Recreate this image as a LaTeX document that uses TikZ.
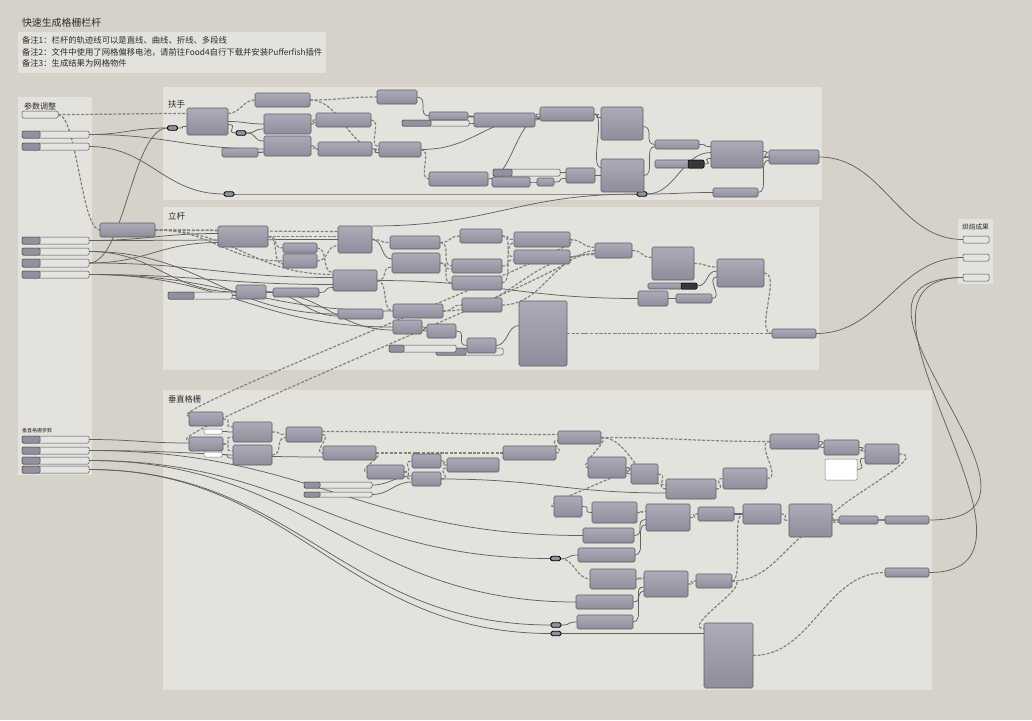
\documentclass[tikz,border=0pt]{standalone}
\usepackage{fontspec}
\newfontfamily\cjk{Noto Sans CJK SC}
\usetikzlibrary{calc}
\definecolor{bgc}{RGB}{214,210,202}
\definecolor{grp}{RGB}{227,226,221}
\definecolor{ctop}{RGB}{172,171,184}
\definecolor{cbot}{RGB}{142,141,155}
\definecolor{cbrd}{RGB}{92,92,102}
\definecolor{slt}{RGB}{228,228,226}
\definecolor{sdk}{RGB}{146,145,160}
\definecolor{wirec}{RGB}{100,98,94}
\definecolor{dwirec}{RGB}{132,130,125}
\definecolor{txt}{RGB}{45,45,45}
\pgfdeclarelayer{back}\pgfdeclarelayer{wires}\pgfsetlayers{back,wires,main}
\tikzset{
 comp/.style={draw=cbrd,line width=0.6pt,rounded corners=1.5pt,top color=ctop,bottom color=cbot,inner sep=0,outer sep=0},
 sld/.style={draw=gray!65!black,line width=0.5pt,rounded corners=1.2pt,fill=slt,inner sep=0,outer sep=0},
 wpanel/.style={draw=gray,line width=0.5pt,rounded corners=1pt,fill=white,inner sep=0,outer sep=0},
 relay/.style={draw=black,line width=0.9pt,rounded corners=1.5pt,fill=sdk,inner sep=0,outer sep=0,minimum width=10pt,minimum height=4.5pt},
 lbl/.style={inner sep=0,outer sep=0,text=txt},
 gh/.style={to path={let \p1=(\tikztostart),\p2=(\tikztotarget),\n1={max(abs(\x2-\x1)*0.45,12)} in .. controls ($(\p1)+(\n1,0)$) and ($(\p2)-(\n1,0)$) .. (\p2)}},
 gl/.style={to path={let \p1=(\tikztostart),\p2=(\tikztotarget) in .. controls ($(\p1)+(#1,0)$) and ($(\p2)-(#1,0)$) .. (\p2)}},
 w/.style={draw=wirec,line width=0.75pt,gh},
 dw/.style={draw=dwirec,line width=1.2pt,dash pattern=on 3pt off 1.6pt,gh},
}
\newcommand{\cmp}[5]{\pgfmathsetmacro\cw{#4-#2}\pgfmathsetmacro\chh{#5-#3}\node[comp,minimum width=\cw pt,minimum height=\chh pt] (#1) at ({(#2+#4)/2},{(#3+#5)/2}) {};}
\newcommand{\pnl}[5]{\pgfmathsetmacro\cw{#4-#2}\pgfmathsetmacro\chh{#5-#3}\node[sld,minimum width=\cw pt,minimum height=\chh pt] (#1) at ({(#2+#4)/2},{(#3+#5)/2}) {};}
\newcommand{\wpn}[5]{\pgfmathsetmacro\cw{#4-#2}\pgfmathsetmacro\chh{#5-#3}\node[wpanel,minimum width=\cw pt,minimum height=\chh pt] (#1) at ({(#2+#4)/2},{(#3+#5)/2}) {};}
\newcommand{\sldr}[6]{\pnl{#1}{#2}{#3}{#4}{#5}\fill[sdk,draw=gray!60!black,line width=0.5pt,rounded corners=1.2pt] (#2,#3) rectangle (#6,#5);}
\newcommand{\blk}[6]{\cmp{#1}{#2}{#3}{#4}{#5}\fill[black!78,draw=black,line width=0.5pt,rounded corners=1pt] (#6,#3) rectangle (#4,#5);}
\begin{document}
\begin{tikzpicture}[x=1pt,y=-1pt]
\useasboundingbox (0,0) rectangle (1032,720);
\begin{pgfonlayer}{back}
\fill[bgc] (0,0) rectangle (1032,720);
\fill[grp] (18,32) rectangle (326,73);
\fill[grp] (18,97) rectangle (92,475);
\fill[grp] (163,87) rectangle (822,200);
\fill[grp] (163,207) rectangle (819,370);
\fill[grp] (163,390) rectangle (932,690);
\fill[grp] (958,219) rectangle (993,284);
\end{pgfonlayer}
% texts
\node[lbl,anchor=west,font={\cjk\fontsize{9.9}{11}\selectfont}] (title) at (22,23) {快速生成格栅栏杆};
\node[lbl,anchor=west,font={\cjk\fontsize{8.35}{10}\selectfont}] (n1) at (22,40.5) {备注1：栏杆的轨迹线可以是直线、曲线、折线、多段线};
\node[lbl,anchor=west,font={\cjk\fontsize{8.35}{10}\selectfont}] (n2) at (22,52) {备注2：文件中使用了网格偏移电池，请前往Food4自行下载并安装Pufferfish插件};
\node[lbl,anchor=west,font={\cjk\fontsize{8.35}{10}\selectfont}] (n3) at (22,63.5) {备注3：生成结果为网格物件};
\node[lbl,anchor=west,font={\cjk\fontsize{8}{9}\selectfont}] (gpar) at (24,106) {参数调整};
\node[lbl,anchor=west,font={\cjk\fontsize{8.5}{9}\selectfont}] (gfs) at (168,104) {扶手};
\node[lbl,anchor=west,font={\cjk\fontsize{8.5}{9}\selectfont}] (glg) at (168,216) {立杆};
\node[lbl,anchor=west,font={\cjk\fontsize{8.3}{9}\selectfont}] (gcz) at (168,399) {垂直格栅};
\node[lbl,font={\cjk\fontsize{6.7}{8}\selectfont}] (gout) at (975.5,227) {烘焙成果};
\node[lbl,anchor=west,font={\cjk\fontsize{5}{6}\selectfont}] (gczp) at (22,431) {垂直格栅参数};
% left params
\pnl{p0}{22}{111}{58}{118}
\sldr{s1}{22}{131}{89}{138}{40}
\sldr{s2}{22}{143}{89}{150}{40}
\sldr{s3}{22}{237}{89}{244}{40}
\sldr{s4}{22}{248}{89}{255}{40}
\sldr{s5}{22}{259}{89}{267}{40}
\sldr{s6}{22}{271}{89}{278}{40}
\sldr{t1}{22}{436}{89}{443}{40}
\sldr{t2}{22}{447}{89}{454}{40}
\sldr{t3}{22}{457}{89}{464}{40}
\sldr{t4}{22}{466}{89}{473}{40}
% outputs
\pnl{o1}{963}{236}{989}{243}
\pnl{o2}{963}{254}{989}{261}
\pnl{o3}{963}{274}{989}{281}
% handrail
\node[relay] (r1) at (172.5,128) {};
\node[relay] (r3) at (241,133) {};
\node[relay] (r2) at (229,194) {};
\node[relay] (r4) at (642,194) {};
\cmp{a1}{187}{108}{228}{135}
\cmp{b1}{255}{93}{310}{107}
\cmp{h3}{264}{114}{311}{134}
\cmp{h4}{264}{136}{311}{156}
\cmp{h5}{222}{148}{258}{157}
\cmp{h6}{316}{113}{371}{127}
\cmp{h8}{318}{142}{372}{156}
\cmp{h7}{377}{90}{417}{104}
\cmp{h10}{379}{142}{421}{157}
\sldr{sl1}{402}{120}{469}{126}{431}
\cmp{h11}{429}{112}{468}{120}
\cmp{h13}{474}{113}{535}{127}
\cmp{h14}{540}{107}{594}{121}
\cmp{h19}{601}{107}{643}{140}
\cmp{h15}{429}{172}{488}{186}
\sldr{sl2}{493}{169}{560}{176}{512}
\cmp{h16}{492}{177}{530}{187}
\cmp{h17}{537}{178}{554}{186}
\cmp{h18}{566}{168}{595}{183}
\cmp{h20}{601}{159}{644}{192}
\cmp{h21}{655}{140}{699}{149}
\blk{hs}{655}{160}{704}{168}{688}
\cmp{h23}{711}{141}{763}{168}
\cmp{h24}{769}{150}{819}{164}
\cmp{h25}{713}{188}{758}{197}
% posts
\cmp{l0}{100}{223}{155}{237}
\cmp{l1}{218}{226}{268}{247}
\cmp{l2}{283}{243}{317}{253}
\cmp{l3}{283}{254}{317}{268}
\cmp{l4}{338}{226}{372}{253}
\cmp{l5}{333}{270}{377}{291}
\sldr{ls1}{168}{292}{232}{299}{194}
\cmp{l6}{236}{285}{266}{299}
\cmp{l7}{273}{288}{319}{297}
\cmp{l8}{338}{309}{383}{319}
\cmp{l9}{390}{236}{440}{249}
\cmp{l10}{392}{253}{440}{273}
\cmp{l11}{460}{229}{502}{243}
\cmp{l12}{452}{259}{502}{273}
\cmp{l13}{452}{276}{502}{290}
\cmp{l14}{514}{232}{570}{247}
\cmp{l15}{514}{250}{570}{264}
\cmp{l16}{595}{243}{632}{258}
\cmp{l17}{652}{247}{694}{280}
\blk{lhs}{648}{283}{697}{289}{681}
\cmp{l18}{717}{259}{764}{287}
\cmp{l19}{638}{291}{668}{306}
\cmp{l20}{676}{294}{712}{303}
\cmp{l21}{462}{298}{502}{312}
\cmp{l22}{393}{304}{443}{318}
\cmp{l23}{393}{320}{422}{334}
\cmp{l24}{427}{324}{456}{338}
\sldr{ls3}{436}{348}{503}{355}{466}
\sldr{ls2}{389}{345}{456}{352}{404}
\cmp{l26}{467}{338}{496}{353}
\cmp{l27}{519}{301}{567}{366}
\cmp{l28}{772}{329}{816}{338}
% vertical grille
\cmp{v1}{189}{412}{223}{426}
\cmp{v2}{189}{437}{223}{451}
\wpn{vw1}{204}{429}{222}{434}
\wpn{vw2}{204}{452}{222}{457}
\cmp{v3}{233}{422}{272}{442}
\cmp{v4}{233}{445}{272}{465}
\cmp{v5}{286}{427}{322}{442}
\cmp{v6}{323}{446}{376}{460}
\cmp{v7}{367}{465}{404}{479}
\cmp{v8}{412}{454}{441}{468}
\cmp{v9}{412}{472}{441}{486}
\cmp{v10}{447}{458}{499}{472}
\cmp{v11}{503}{446}{556}{460}
\sldr{vs1}{304}{482}{372}{488}{320}
\sldr{vs2}{304}{492}{372}{497}{320}
\cmp{v12}{558}{431}{601}{444}
\cmp{v13}{588}{457}{626}{478}
\cmp{v14}{631}{464}{658}{484}
\cmp{v15}{666}{479}{716}{499}
\cmp{v16}{723}{468}{767}{489}
\cmp{v17}{770}{434}{819}{449}
\cmp{v18}{824}{440}{859}{455}
\wpn{vw3}{825}{459}{857}{480}
\cmp{v19}{865}{444}{899}{464}
\cmp{v20}{554}{496}{582}{517}
\cmp{v21}{592}{502}{637}{523}
\cmp{v22}{646}{504}{690}{531}
\cmp{v23}{698}{507}{734}{521}
\cmp{v24}{743}{504}{781}{524}
\cmp{v25}{789}{504}{832}{537}
\cmp{v26}{839}{516}{878}{524}
\cmp{v27}{885}{516}{929}{524}
\cmp{v28}{583}{528}{634}{543}
\cmp{v29}{578}{548}{635}{562}
\node[relay] (vr1) at (555.5,558.5) {};
\cmp{v30}{590}{569}{636}{589}
\cmp{v31}{644}{571}{688}{597}
\cmp{v32}{696}{574}{732}{588}
\cmp{v33}{885}{568}{929}{577}
\cmp{v34}{576}{595}{633}{609}
\cmp{v35}{577}{615}{633}{629}
\node[relay] (vr2) at (556,625) {};
\node[relay] (vr3) at (556,633.5) {};
\cmp{v36}{704}{623}{753}{688}
% ---------- wires ----------
\begin{pgfonlayer}{wires}
% handrail
\draw[dw] (p0.east) to ($(a1.west)+(0,-8)$);
\draw[dw] (p0.east) to (l0.west);
\draw[w] (s1.east) to (r1.west);
\draw[w] (s1.east) to ($(h4.west)+(0,3)$);
\draw[w] (s2.east) to (r2.west);
\draw[w] (s5.east) to (r1.west);
\draw[w] (r1.east) to ($(a1.west)+(0,5)$);
\draw[w] ($(a1.east)+(0,3)$) to (r3.west);
\draw[w] (a1.east) to (h3.west);
\draw[dw] ($(a1.east)+(0,-8)$) to (b1.west);
\draw[w] (r3.east) to ($(h3.west)+(0,5)$);
\draw[w] (r3.east) to ($(h4.west)+(0,-5)$);
\draw[w] (h5.east) to ($(h4.west)+(0,6)$);
\draw[dw] (b1.east) to (h7.west);
\draw[dw] (b1.east) to (h10.west);
\draw[dw] (h3.east) to (h6.west);
\draw[dw] (h4.east) to (h8.west);
\draw[dw] (h6.east) to ($(h10.west)+(0,-3)$);
\draw[dw] (h10.east) to (h15.west);
\draw[w] (h8.east) to ($(h10.west)+(0,3)$);
\draw[w] (h7.east) to (h11.west);
\draw[w] (h11.east) to ($(h13.west)+(0,-3)$);
\draw[w] (sl1.east) to ($(h13.west)+(0,3)$);
\draw[w] (h13.east) to (h14.west);
\draw[w] (h10.east) to ($(h14.west)+(0,3)$);
\draw[w] (h15.east) to ($(h14.west)+(0,4)$);
\draw[w] (sl2.east) to ($(h18.west)+(0,-3)$);
\draw[w] (h16.east) to (h17.west);
\draw[w] (h17.east) to ($(h18.west)+(0,3)$);
\draw[w] (h14.east) to ($(h19.west)+(0,-6)$);
\draw[w] (h14.east) to ($(h20.west)+(0,-8)$);
\draw[w] (h18.east) to (h20.west);
\draw[w] ($(h19.east)+(0,3)$) to (h21.west);
\draw[w] (h20.east) to ($(h21.west)+(0,2)$);
\draw[w] (h21.east) to ($(h23.west)+(0,-8)$);
\draw[w] (hs.east) to ($(h23.west)+(0,4)$);
\draw[w] (r4.east) to ($(h23.west)+(0,-2)$);
\draw[w] ($(h23.east)+(0,-3)$) to (h24.west);
\draw[w] ($(h23.east)+(0,3)$) to (h24.west);
\draw[w] (r4.east) to (h25.west);
\draw[w] (h25.east) to ($(h24.west)+(0,3)$);
\draw[w] (r2.east) to (r4.west);
\draw[w] (l4.north east) to (r4.west);
\draw[w] (h24.east) to (o1.west);
% posts
\draw[w] (s3.east) to ($(l1.west)+(0,-3)$);
\draw[w] (s3.east) to (l4.west);
\draw[w] (s4.east) to (l6.west);
\draw[w] (s4.east) to (l8.west);
\draw[w] (s5.east) to ($(l1.west)+(0,6)$);
\draw[w] (s5.east) to ($(l5.west)+(0,-3)$);
\draw[w] (s6.east) to ($(l5.west)+(0,4)$);
\draw[w] (s6.east) to (l22.west);
\draw[w] (s6.east) to (l23.west);
\draw[w] (ls1.east) to ($(l6.west)+(0,3)$);
\draw[w] (l6.east) to (l7.west);
\draw[w] (l7.east) to ($(l5.west)+(0,7)$);
\draw[w] (l6.east) to ($(l8.west)+(0,2)$);
\draw[w] (l6.east) to ($(l23.west)+(0,3)$);
\draw[dw,line width=1.5pt] (l0.east) to ($(l1.west)+(0,-6)$);
\draw[dw] (l0.east) to ($(l4.west)+(0,-8)$);
\draw[dw] (l0.east) to (l3.west);
\draw[dw] (l0.east) to ($(l5.west)+(0,-6)$);
\draw[dw] (l1.east) to (l2.west);
\draw[dw] (l1.east) to ($(l3.west)+(0,3)$);
\draw[dw] (l1.east) to ($(l4.west)+(0,-3)$);
\draw[dw] (l3.east) to ($(l4.west)+(0,6)$);
\draw[dw] (l2.east) to ($(l5.west)+(0,-8)$);
\draw[dw] (l4.east) to (l9.west);
\draw[w] (l4.east) to ($(l10.west)+(0,-4)$);
\draw[dw] (l5.east) to ($(l10.west)+(0,4)$);
\draw[w] (l5.east) to (l19.west);
\draw[dw] (l5.east) to (l22.west);
\draw[dw] (l9.east) to (l11.west);
\draw[dw] (l9.east) to (l12.west);
\draw[dw] (l10.east) to ($(l12.west)+(0,3)$);
\draw[dw] (l10.east) to (l13.west);
\draw[dw] (l11.east) to (l14.west);
\draw[dw] (l11.east) to (l15.west);
\draw[dw] (l12.east) to ($(l15.west)+(0,3)$);
\draw[dw] (l13.east) to ($(l14.west)+(0,3)$);
\draw[dw] (l14.east) to ($(l16.west)+(0,-3)$);
\draw[dw] (l15.east) to (l16.west);
\draw[dw] (l21.east) to ($(l16.west)+(0,3)$);
\draw[dw] (l22.east) to ($(l16.west)+(0,4)$);
\draw[dw] (l22.east) to (l21.west);
\draw[w] (l23.east) to (l24.west);
\draw[w] (l24.east) to (l26.west);
\draw[w] (l26.east) to ($(l27.west)+(0,-8)$);
\draw[dw] (l16.east) to ($(l17.west)+(0,-6)$);
\draw[dw] (l17.east) to ($(l18.west)+(0,-6)$);
\draw[w] (lhs.east) to ($(l18.west)+(0,-2)$);
\draw[w] (l19.east) to (l20.west);
\draw[w] (l20.east) to ($(l18.west)+(0,4)$);
\draw[dw,gl=18] (l18.east) to (l28.west);
\draw[dw] (l27.east) to (l28.west);
\draw[w] (l28.east) to (o2.west);
\draw[dw,gl=40] (l14.east) to ($(v1.west)+(0,-3)$);
\draw[dw,gl=40] (l15.east) to ($(v2.west)+(0,-4)$);
% vertical grille
\draw[w] (t1.east) to ($(v2.west)+(0,-1)$);
\draw[w] (t2.east) to ($(v6.west)+(0,4)$);
\draw[w] (t2.east) to (v28.west);
\draw[w] (t3.east) to (vr1.west);
\draw[w] (t3.east) to (v34.west);
\draw[w] (t4.east) to (vr2.west);
\draw[w] (t4.east) to (vr3.west);
\draw[dw] (v1.east) to ($(v3.west)+(0,-5)$);
\draw[dw] (v2.east) to ($(v3.west)+(0,5)$);
\draw[dw] (v2.east) to ($(v4.west)+(0,-4)$);
\draw[w] (vw1.east) to (v3.west);
\draw[w] (vw2.east) to ($(v4.west)+(0,3)$);
\draw[dw] (v3.east) to (v5.west);
\draw[dw] (v4.east) to ($(v5.west)+(0,3)$);
\draw[dw] ($(v5.east)+(0,-3)$) to ($(v12.west)+(0,-3)$);
\draw[dw] (v5.east) to (v6.west);
\draw[dw] (v6.east) to (v11.west);
\draw[dw] (v6.east) to (v7.west);
\draw[dw] (v7.east) to (v8.west);
\draw[dw] (v7.east) to (v9.west);
\draw[w] (vs1.east) to ($(v9.west)+(0,-3)$);
\draw[w] (vs2.east) to ($(v9.west)+(0,3)$);
\draw[dw] (v8.east) to (v10.west);
\draw[dw] (v9.east) to ($(v10.west)+(0,3)$);
\draw[w] (v9.east) to ($(v15.west)+(0,4)$);
\draw[dw] (v11.east) to ($(v12.west)+(0,3)$);
\draw[dw] (v12.east) to (v17.west);
\draw[dw] (v12.east) to (v13.west);
\draw[dw] (v12.east) to ($(v15.west)+(0,-4)$);
\draw[w] (v13.east) to (v14.west);
\draw[dw] (v14.east) to (v15.west);
\draw[dw,gl=20] (v13.east) to (v20.west);
\draw[dw] (v15.east) to (v16.west);
\draw[dw,gl=16] (v16.east) to (v17.west);
\draw[w] (v17.east) to (v18.west);
\draw[w] (v18.east) to ($(v19.west)+(0,-3)$);
\draw[w] (vw3.east) to ($(v19.west)+(0,4)$);
\draw[dw,gl=40] (v19.east) to (v26.west);
\draw[w] (v20.east) to (v21.west);
\draw[dw] (v21.east) to ($(v22.west)+(0,-6)$);
\draw[w] (v28.east) to ($(v22.west)+(0,2)$);
\draw[w] (v29.east) to ($(v22.west)+(0,7)$);
\draw[w] (vr1.east) to (v29.west);
\draw[dw] (vr1.east) to (v30.west);
\draw[dw] (v22.east) to (v23.west);
\draw[w,line width=1.1pt] (v23.east) to (v24.west);
\draw[dw] (v24.east) to (v25.west);
\draw[dw] (v25.east) to (v26.west);
\draw[dw] (v26.east) to (v27.west);
\draw[w,gl=165] (v27.east) to (o3.west);
\draw[dw] (v30.east) to ($(v31.west)+(0,-6)$);
\draw[w] (v34.east) to ($(v31.west)+(0,3)$);
\draw[w] (v35.east) to ($(v31.west)+(0,7)$);
\draw[w] (vr2.east) to (v35.west);
\draw[dw] (v31.east) to (v32.west);
\draw[dw] (v32.east) to (v24.west);
\draw[dw] (v32.east) to ($(v26.west)+(0,2)$);
\draw[dw,gl=25] (v32.east) to ($(v36.west)+(0,-27)$);
\draw[w] (vr3.east) to ($(v36.west)+(0,-22)$);
\draw[dw] (v36.east) to (v33.west);
\draw[w,gl=150] (v33.east) to (o3.west);
\end{pgfonlayer}
\end{tikzpicture}
\end{document}
